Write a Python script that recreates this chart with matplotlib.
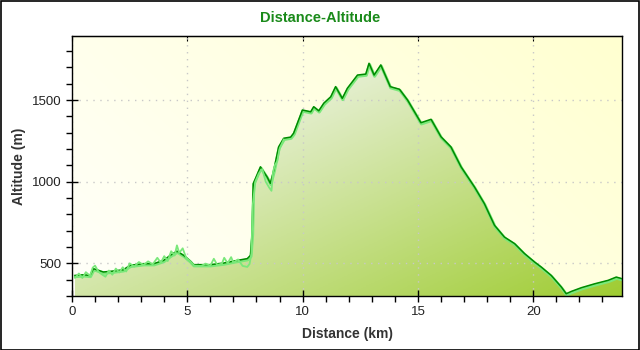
import matplotlib
matplotlib.use("Agg")
import matplotlib.pyplot as plt
import matplotlib.transforms as mtransforms
from matplotlib.patches import Rectangle
from matplotlib.ticker import MultipleLocator
import numpy as np

# smoothed profile (dark line)
dist_km = [0.13, 0.5, 0.78, 0.93, 1.07, 1.36, 1.8, 2.23, 2.52, 3.1, 3.54, 3.97, 4.26, 4.55,
           4.84, 5.13, 5.27, 6.0, 6.58, 7.01, 7.6, 7.74, 7.81, 7.86, 7.96, 8.17, 8.46, 8.6,
           8.75, 8.96, 9.18, 9.48, 9.61, 9.99, 10.35, 10.48, 10.7, 10.92, 11.22, 11.43, 11.72,
           11.94, 12.38, 12.74, 12.88, 13.1, 13.39, 13.8, 14.2, 14.55, 15.13, 15.57, 16.0,
           16.43, 16.87, 17.45, 17.88, 18.32, 18.75, 19.19, 19.62, 20.06, 20.35, 20.78, 21.22,
           21.43, 21.65, 22.09, 22.67, 23.25, 23.6, 23.85]
alt_m = [426, 430, 426, 467, 461, 447, 453, 461, 488, 498, 498, 518, 549, 575,
         549, 514, 492, 492, 502, 514, 529, 549, 682, 989, 1021, 1091, 1029, 990,
         1070, 1213, 1266, 1273, 1297, 1439, 1428, 1459, 1434, 1481, 1520, 1582, 1510,
         1572, 1653, 1659, 1725, 1653, 1715, 1582, 1566, 1500, 1361, 1382, 1275,
         1213, 1091, 968, 866, 733, 661, 621, 560, 508, 477, 426, 355,
         314, 328, 351, 375, 396, 416, 406]

# raw gps altitude (light line), noisy first part
raw_km = [0.13, 0.3, 0.45, 0.6, 0.78, 0.9, 1.0, 1.15, 1.3, 1.45, 1.6, 1.75, 1.9, 2.05, 2.2,
          2.35, 2.5, 2.7, 2.9, 3.1, 3.3, 3.5, 3.7, 3.85, 4.0, 4.15, 4.3, 4.45, 4.55, 4.65,
          4.8, 4.95, 5.1, 5.3, 5.6, 5.8, 6.0, 6.15, 6.3, 6.5, 6.6, 6.75, 6.9, 7.0, 7.2, 7.4,
          7.6, 7.7, 7.78, 7.84, 7.95, 8.1, 8.25, 8.4, 8.55, 8.65, 8.72, 8.8, 8.9, 9.0, 9.18]
raw_alt = [412, 438, 410, 446, 424, 474, 486, 448, 432, 418, 456, 430, 468, 444, 476,
           450, 500, 480, 508, 490, 512, 494, 534, 504, 544, 514, 574, 548, 610, 564,
           592, 534, 516, 486, 484, 498, 486, 528, 490, 498, 534, 500, 538, 504, 524, 484,
           478, 496, 560, 860, 1000, 1050, 1078, 1000, 964, 944, 1062, 1102, 1125, 1200, 1258]

x_max = 23.85
y_min, y_max = 300, 1892

fig = plt.figure(figsize=(6.4, 3.5), dpi=100)
fig.patch.set_facecolor("white")
ax = fig.add_axes([72 / 640, 54 / 350, 550 / 640, 260 / 350])
ax.set_xlim(0, x_max)
ax.set_ylim(y_min, y_max)

# pale yellow background
u, v = np.meshgrid(np.linspace(0, 1, 200), np.linspace(0, 1, 120))
bg = np.ones((120, 200, 3))
bg[..., 2] = (236 - 28 * u + 14 * v) / 255
ax.imshow(bg, extent=[0, 1, 0, 1], transform=ax.transAxes, aspect="auto",
          origin="upper", zorder=0)

# green gradient fill under the profile
s = u + v
fill = np.zeros((120, 200, 3))
fill[..., 0] = np.clip(263 - 52 * s, 0, 255) / 255
fill[..., 1] = np.clip(256 - 26 * s, 0, 255) / 255
fill[..., 2] = np.clip(286 - 118 * s, 0, 255) / 255
img = ax.imshow(fill, extent=[0, 1, 0, 1], transform=ax.transAxes, aspect="auto",
                origin="upper", zorder=1)
poly = ax.fill_between(dist_km, alt_m, y_min, facecolor="none", edgecolor="none")
img.set_clip_path(poly.get_paths()[0], transform=ax.transData)

light = "#7ae87a"
shift = mtransforms.offset_copy(ax.transData, fig=fig, x=0.5, y=-1.2, units="dots")
ax.plot(dist_km, alt_m, color=light, lw=2.2, transform=shift, zorder=2)
ax.plot(raw_km, raw_alt, color=light, lw=1.3, zorder=3.5)
ax.plot(dist_km, alt_m, color="#008a00", lw=1.1, zorder=3)

ax.grid(True, which="major", color="#c8c8c8", linestyle=(0, (1, 4)), lw=1)
for ln in ax.get_xgridlines() + ax.get_ygridlines():
    ln.set_zorder(0.5)

ax.xaxis.set_major_locator(MultipleLocator(5))
ax.xaxis.set_minor_locator(MultipleLocator(1))
ax.yaxis.set_major_locator(MultipleLocator(500))
ax.yaxis.set_minor_locator(MultipleLocator(100))
ax.tick_params(which="major", direction="inout", length=8, width=1, color="black",
               labelsize=9.5)
ax.tick_params(which="minor", direction="out", length=4, width=1, color="black")
ax.secondary_xaxis("top").tick_params(which="both", direction="in", labeltop=False)
for sp in ax.spines.values():
    sp.set_color("black")
    sp.set_linewidth(1)

for lab in ax.get_xticklabels() + ax.get_yticklabels():
    lab.set_fontfamily("Liberation Sans")
    lab.set_color("#222222")

ax.set_xlabel("Distance (km)", fontsize=10, fontweight="bold", color="#333333",
              family="Liberation Sans", labelpad=6)
ax.set_ylabel("Altitude (m)", fontsize=10, fontweight="bold", color="#333333",
              family="Liberation Sans", labelpad=4)
fig.text(0.5, 1 - 18 / 350, "Distance-Altitude", ha="center", va="center",
         fontsize=10.5, fontweight="bold", color="#1a8a1a", family="Liberation Sans")

fig.patches.append(Rectangle((0.5 / 640, 0.5 / 350), 638.5 / 640, 348.5 / 350,
                             transform=fig.transFigure, fill=False, edgecolor="black", lw=1.2))

fig.savefig("out.png", dpi=100)
